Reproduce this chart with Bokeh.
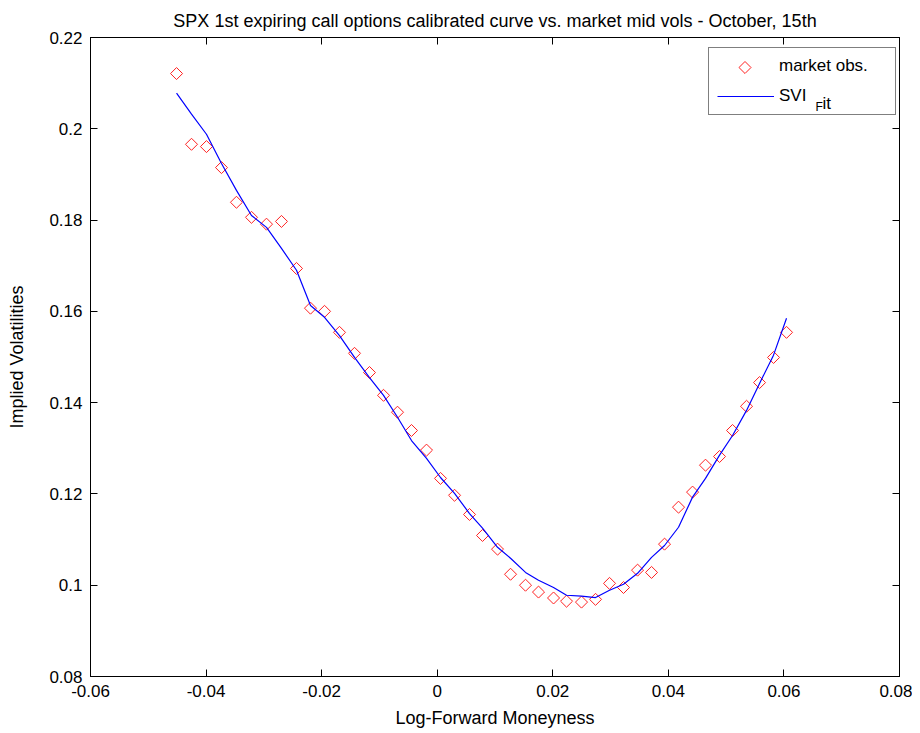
import numpy as np
from bokeh.plotting import figure
from bokeh.models import Range1d, FixedTicker, LinearAxis, Legend, LegendItem, Label
from bokeh.embed import file_html
from bokeh.resources import INLINE

# ---- data ----
moneyness = [-0.04511, -0.04252, -0.03993, -0.03733, -0.03474, -0.03214, -0.02954, -0.02695,
             -0.02435, -0.02193, -0.01950, -0.01691, -0.01431, -0.01172, -0.00929, -0.00687,
             -0.00445, -0.00185, 0.00057, 0.00300, 0.00559, 0.00784, 0.01044, 0.01269,
             0.01528, 0.01753, 0.02013, 0.02238, 0.02497, 0.02740, 0.02982, 0.03224,
             0.03467, 0.03709, 0.03934, 0.04176, 0.04419, 0.04643, 0.04886, 0.05111,
             0.05353, 0.05578, 0.05820, 0.06045]
market_vols = [0.2121, 0.1966, 0.1961, 0.1915, 0.1839, 0.1806, 0.1791, 0.1797,
               0.1694, 0.1607, 0.1600, 0.1554, 0.1508, 0.1466, 0.1416, 0.1379,
               0.1339, 0.1296, 0.1234, 0.1197, 0.1155, 0.1109, 0.1079, 0.1024,
               0.1000, 0.0985, 0.0972, 0.0965, 0.0963, 0.0969, 0.1004, 0.0995,
               0.1033, 0.1028, 0.1090, 0.1171, 0.1204, 0.1263, 0.1282, 0.1339,
               0.1392, 0.1444, 0.1499, 0.1554]
svi_fit = [0.2078, 0.2032, 0.1988, 0.1924, 0.1865, 0.1810, 0.1784, 0.1738,
           0.1690, 0.1613, 0.1587, 0.1547, 0.1499, 0.1455, 0.1416, 0.1368,
           0.1317, 0.1278, 0.1236, 0.1201, 0.1157, 0.1125, 0.1083, 0.1059,
           0.1028, 0.1011, 0.0995, 0.0978, 0.0976, 0.0973, 0.0989, 0.1002,
           0.1026, 0.1061, 0.1087, 0.1127, 0.1193, 0.1234, 0.1285, 0.1328,
           0.1383, 0.1442, 0.1504, 0.1585]

x_ticks = [-0.06, -0.04, -0.02, 0.0, 0.02, 0.04, 0.06, 0.08]
x_tick_labels = ["-0.06", "-0.04", "-0.02", "0", "0.02", "0.04", "0.06", "0.08"]
y_ticks = [0.08, 0.10, 0.12, 0.14, 0.16, 0.18, 0.20, 0.22]
y_tick_labels = ["0.08", "0.1", "0.12", "0.14", "0.16", "0.18", "0.2", "0.22"]

title_text = "SPX 1st expiring call options calibrated curve vs. market mid vols - October, 15th"
FONT = "Liberation Sans"

W, H = 912, 730
ML, MR, MT, MB = 90, 13, 37, 54
FW, FH = W - ML - MR, H - MT - MB   # frame size in pixels

p = figure(width=W, height=H, output_backend="svg", toolbar_location=None,
           x_range=Range1d(-0.06, 0.08), y_range=Range1d(0.08, 0.22),
           title=title_text, min_border_left=ML, min_border_right=MR,
           min_border_top=MT, min_border_bottom=MB)
# pixel ranges over the frame, used only to place legend decorations
p.extra_x_ranges = {"px": Range1d(0, FW)}
p.extra_y_ranges = {"py": Range1d(0, FH)}

p.title.align = "center"
p.title.text_font = FONT
p.title.text_font_size = "18px"
p.title.text_font_style = "normal"
p.title.text_color = "black"
p.title.standoff = 14

p.xgrid.visible = False
p.ygrid.visible = False
p.outline_line_color = "black"
p.outline_line_width = 1
p.background_fill_color = "white"
p.border_fill_color = "white"

def style_axis(ax, ticks, labels, show_labels=True):
    ax.ticker = FixedTicker(ticks=ticks)
    ax.major_tick_in = 7
    ax.major_tick_out = 0
    ax.minor_tick_line_color = None
    ax.axis_line_color = "black"
    ax.major_tick_line_color = "black"
    ax.major_label_text_font = FONT
    ax.axis_label_text_font = FONT
    ax.axis_label_text_font_style = "normal"
    ax.axis_label_text_color = "black"
    if show_labels:
        ax.major_label_overrides = {t: l for t, l in zip(ticks, labels)}
        ax.major_label_text_color = "black"
        ax.major_label_text_font_size = "17px"
        ax.major_label_standoff = 8
    else:
        ax.major_label_text_color = None
        ax.major_label_text_font_size = "0px"
        ax.major_label_standoff = 0

xa = p.xaxis[0]
ya = p.yaxis[0]
style_axis(xa, x_ticks, x_tick_labels)
style_axis(ya, y_ticks, y_tick_labels)
xa.axis_label = "Log-Forward Moneyness"
xa.axis_label_text_font_size = "18px"
xa.axis_label_standoff = 8
ya.axis_label = "Implied Volatilities"
ya.axis_label_text_font_size = "18px"
ya.axis_label_standoff = 19

top_ax = LinearAxis()
style_axis(top_ax, x_ticks, x_tick_labels, show_labels=False)
p.add_layout(top_ax, "above")
right_ax = LinearAxis()
style_axis(right_ax, y_ticks, y_tick_labels, show_labels=False)
p.add_layout(right_ax, "right")

MARKER_COLOR = "#ff2020"
pts = p.scatter(moneyness, market_vols, marker="square", angle=np.pi / 4, size=8.5,
                fill_color=None, line_color=MARKER_COLOR, line_width=1)
ln = p.line(moneyness, svi_fit, line_color="blue", line_width=1.2)

# legend geometry (pixels, relative to frame bottom-left)
LEG_X, LEG_Y = 618, 561
PAD, GW, GH, SP = 8, 57, 20, 10
legend = Legend(items=[LegendItem(label="market obs.", renderers=[]),
                       LegendItem(label="SVI", renderers=[ln])],
                location=(LEG_X, LEG_Y))
legend.label_text_font = FONT
legend.label_text_font_size = "17px"
legend.label_text_color = "black"
legend.label_width = 108
legend.label_height = GH
legend.glyph_height = GH
legend.glyph_width = GW
legend.label_standoff = 5
legend.padding = PAD
legend.spacing = SP
legend.margin = 0
legend.border_line_color = "black"
legend.border_line_width = 1
legend.background_fill_alpha = 0
p.add_layout(legend, "center")

# legend sample of the markers: rotated square (legend glyphs ignore the angle)
leg_h = 2 * PAD + 2 * GH + SP
p.scatter([LEG_X + PAD + GW / 2], [LEG_Y + leg_h - PAD - GH / 2], x_range_name="px", y_range_name="py",
          marker="square", angle=np.pi / 4, size=8.5, fill_color=None,
          line_color=MARKER_COLOR, line_width=1)

# subscript "F" and "it" of the legend entry "SVI_Fit" (TeX-style rendering in the source)
row2_base = LEG_Y + PAD + GH / 2 - 6
p.add_layout(Label(x=LEG_X + PAD + GW + 5 + 37, y=row2_base - 3, x_range_name="px", y_range_name="py",
                   text="F", text_font=FONT, text_font_size="12px", text_color="black",
                   text_baseline="alphabetic"))
p.add_layout(Label(x=LEG_X + PAD + GW + 5 + 44, y=row2_base, x_range_name="px", y_range_name="py",
                   text="it", text_font=FONT, text_font_size="17px", text_color="black",
                   text_baseline="alphabetic"))

open("out.html", "w").write(file_html(p, INLINE))
